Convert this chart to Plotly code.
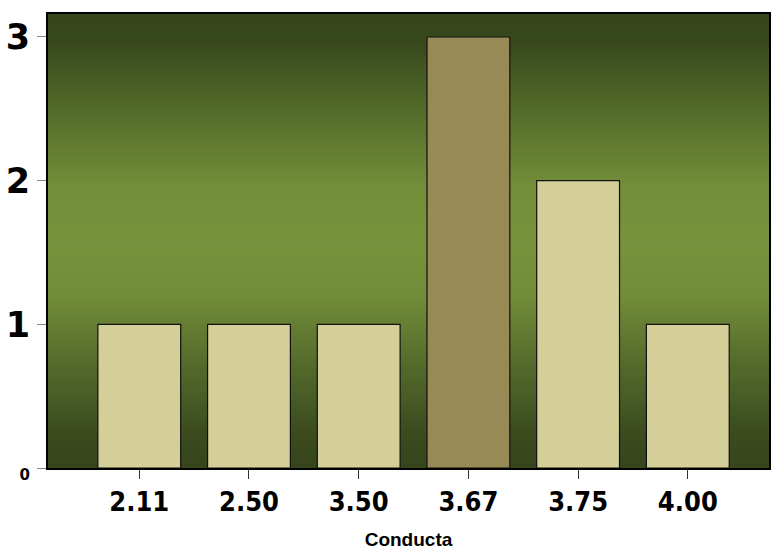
import plotly.graph_objects as go

categories = ["2.11", "2.50", "3.50", "3.67", "3.75", "4.00"]
counts = [1, 1, 1, 3, 2, 1]
bar_colors = ["#d4ce99", "#d4ce99", "#d4ce99", "#978a55", "#d4ce99", "#d4ce99"]
y_tickvals = [0, 1, 2, 3]
y_ticktext = ['<span style="font-size:15px">0</span>', "1", "2", "3"]

# background vertical gradient stops (position from top, rgb)
stops = [(0.0, (0x36, 0x45, 0x1c)), (0.06, (0x38, 0x48, 0x1d)), (0.22, (0x55, 0x6d, 0x2b)),
         (0.38, (0x72, 0x8e, 0x39)), (0.5, (0x77, 0x93, 0x3c)), (0.62, (0x72, 0x8d, 0x39)),
         (0.78, (0x53, 0x69, 0x2b)), (0.92, (0x3c, 0x4c, 0x1f)), (1.0, (0x36, 0x45, 0x1c))]

def color_at(t):
    for (p0, c0), (p1, c1) in zip(stops[:-1], stops[1:]):
        if p0 <= t <= p1:
            f = (t - p0) / (p1 - p0) if p1 > p0 else 0
            c = [round(a + (b - a) * f) for a, b in zip(c0, c1)]
            return "rgb(%d,%d,%d)" % tuple(c)
    return "rgb(54,69,28)"

n = 150
shapes = []
for i in range(n):
    t = (i + 0.5) / n
    shapes.append(dict(type="rect", xref="x domain", yref="y domain", x0=0, x1=1,
                       y0=1 - (i + 1) / n - 0.001, y1=1 - i / n + 0.001,
                       fillcolor=color_at(t), line=dict(width=0), layer="below"))

fig = go.Figure(go.Bar(
    x=categories, y=counts, marker=dict(color=bar_colors, line=dict(color="#111111", width=1.2)),
    width=0.755,
))

fig.update_layout(
    width=771, height=553, margin=dict(l=48, r=0, t=14, b=85),
    paper_bgcolor="white", plot_bgcolor="#4a5e26", showlegend=False, shapes=shapes,
    xaxis=dict(type="category", range=[-0.832, 5.74], showline=True, linecolor="black", linewidth=2,
               mirror=True, ticks="outside", ticklen=9, tickcolor="#333333", tickwidth=1,
               tickfont=dict(family="DejaVu Sans Condensed, Liberation Sans Narrow, sans-serif", size=27,
                             color="black", weight="bold"),
               title=dict(text="<b>Conducta</b>", font=dict(family="Liberation Sans, Arial, sans-serif", size=19, color="black"),
                          standoff=16),
               showgrid=False),
    yaxis=dict(range=[0, 3.16], tickvals=y_tickvals, ticktext=y_ticktext, showline=True, linecolor="black",
               linewidth=2, mirror=True, ticks="outside", ticklen=9, tickcolor="#888888", tickwidth=1,
               tickfont=dict(family="DejaVu Sans, sans-serif", size=35, color="black", weight="bold"),
               showgrid=False, zeroline=False),
)

fig.write_html("out.html")
